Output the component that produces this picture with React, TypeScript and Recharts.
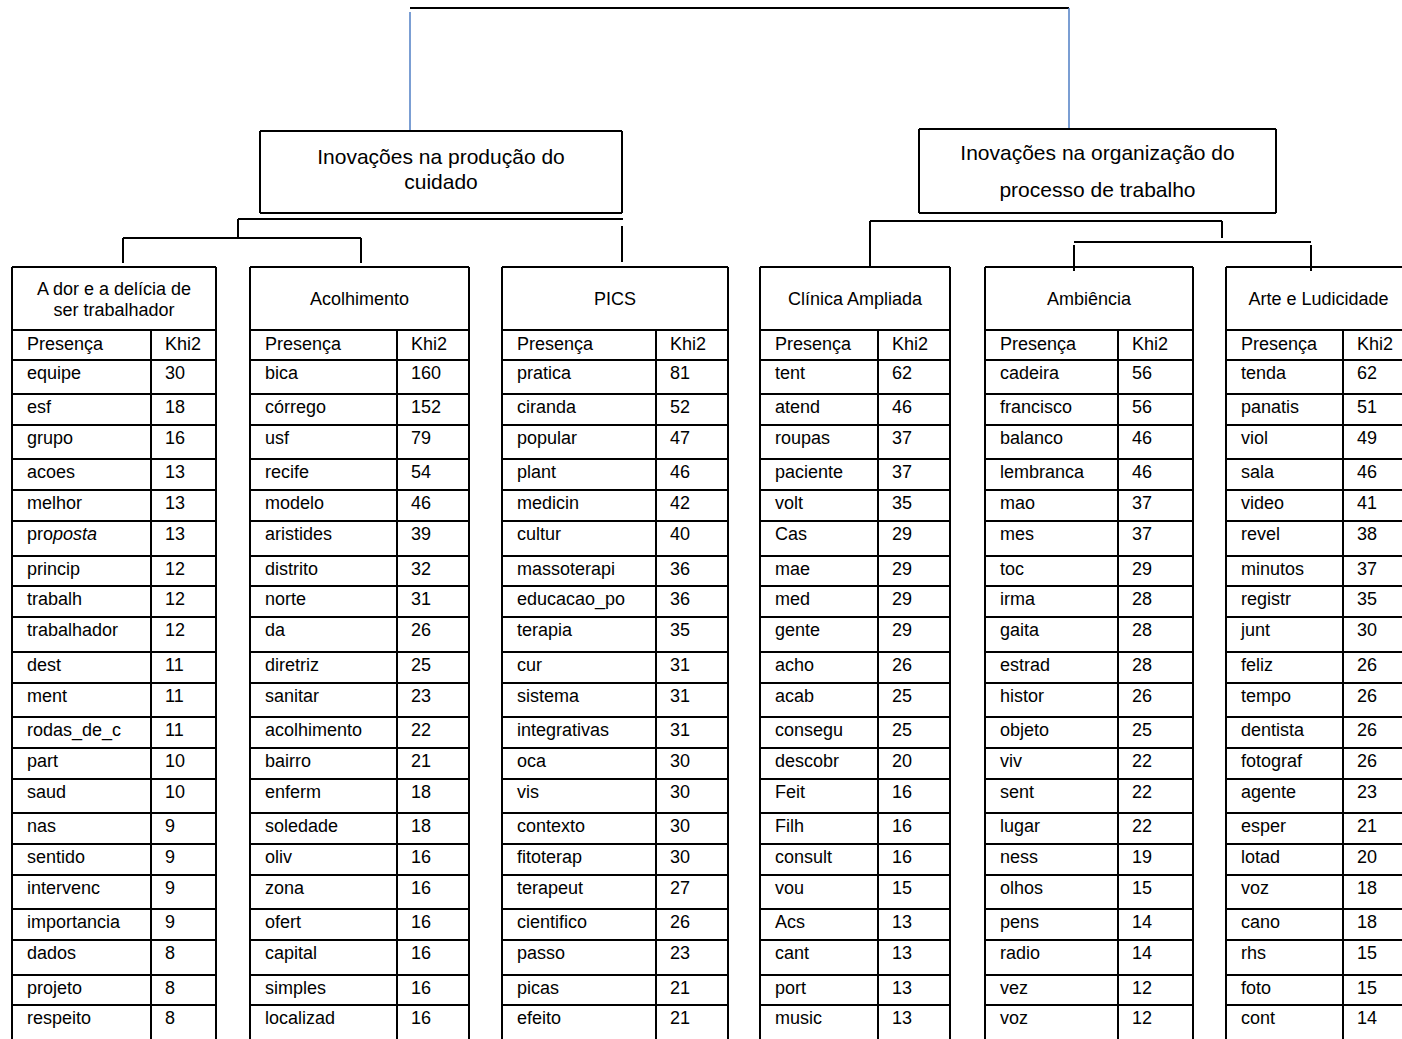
import {
  ScatterChart,
  Scatter,
  XAxis,
  YAxis,
  ReferenceLine,
} from "recharts";

// words and Khi2 values, one pair of arrays per class
const dorWords = ["equipe", "esf", "grupo", "acoes", "melhor", "proposta", "princip", "trabalh", "trabalhador", "dest", "ment", "rodas_de_c", "part", "saud", "nas", "sentido", "intervenc", "importancia", "dados", "projeto", "respeito"];
const dorKhi = [30, 18, 16, 13, 13, 13, 12, 12, 12, 11, 11, 11, 10, 10, 9, 9, 9, 9, 8, 8, 8];

const acolhWords = ["bica", "córrego", "usf", "recife", "modelo", "aristides", "distrito", "norte", "da", "diretriz", "sanitar", "acolhimento", "bairro", "enferm", "soledade", "oliv", "zona", "ofert", "capital", "simples", "localizad"];
const acolhKhi = [160, 152, 79, 54, 46, 39, 32, 31, 26, 25, 23, 22, 21, 18, 18, 16, 16, 16, 16, 16, 16];

const picsWords = ["pratica", "ciranda", "popular", "plant", "medicin", "cultur", "massoterapi", "educacao_po", "terapia", "cur", "sistema", "integrativas", "oca", "vis", "contexto", "fitoterap", "terapeut", "cientifico", "passo", "picas", "efeito"];
const picsKhi = [81, 52, 47, 46, 42, 40, 36, 36, 35, 31, 31, 31, 30, 30, 30, 30, 27, 26, 23, 21, 21];

const clinicaWords = ["tent", "atend", "roupas", "paciente", "volt", "Cas", "mae", "med", "gente", "acho", "acab", "consegu", "descobr", "Feit", "Filh", "consult", "vou", "Acs", "cant", "port", "music"];
const clinicaKhi = [62, 46, 37, 37, 35, 29, 29, 29, 29, 26, 25, 25, 20, 16, 16, 16, 15, 13, 13, 13, 13];

const ambWords = ["cadeira", "francisco", "balanco", "lembranca", "mao", "mes", "toc", "irma", "gaita", "estrad", "histor", "objeto", "viv", "sent", "lugar", "ness", "olhos", "pens", "radio", "vez", "voz"];
const ambKhi = [56, 56, 46, 46, 37, 37, 29, 28, 28, 28, 26, 25, 22, 22, 22, 19, 15, 14, 14, 12, 12];

const arteWords = ["tenda", "panatis", "viol", "sala", "video", "revel", "minutos", "registr", "junt", "feliz", "tempo", "dentista", "fotograf", "agente", "esper", "lotad", "voz", "cano", "rhs", "foto", "cont"];
const arteKhi = [62, 51, 49, 46, 41, 38, 37, 35, 30, 26, 26, 26, 26, 23, 21, 20, 18, 18, 15, 15, 14];

const classTitles = [
  ["A dor e a delícia de", "ser trabalhador"],
  ["Acolhimento"],
  ["PICS"],
  ["Clínica Ampliada"],
  ["Ambiência"],
  ["Arte e Ludicidade"],
];
const groupTitles = [
  ["Inovações na produção do", "cuidado"],
  ["Inovações na organização do", "processo de trabalho"],
];
const colHeaders = ["Presença", "Khi2"];

// layout (pixels of the 1402x1039 page)
const W = 1402;
const H = 1039;
const tableLeft = [12, 250, 502, 760, 985, 1226];
const tableDivider = [151, 397, 656, 878, 1118, 1343];
const tableRight = [216, 469, 728, 950, 1193, 1411];
const rowHeights = [34, 31, 34, 31, 31, 35, 30, 31, 35, 31, 34, 31, 31, 34, 31, 31, 34, 31, 35, 30, 40];
const TOP = 267;
const HEAD_BOTTOM = 330;
const COLHEAD_BOTTOM = 360;

const FONT = "'Liberation Sans', Arial, sans-serif";
const BLUE = "#4F7EC4";

const tables = [
  { words: dorWords, khi: dorKhi },
  { words: acolhWords, khi: acolhKhi },
  { words: picsWords, khi: picsKhi },
  { words: clinicaWords, khi: clinicaKhi },
  { words: ambWords, khi: ambKhi },
  { words: arteWords, khi: arteKhi },
];

const rowTops: number[] = [];
{
  let y = COLHEAD_BOTTOM;
  for (const h of rowHeights) {
    rowTops.push(y);
    y += h;
  }
}

type Pt = { x: number; y: number; text: string; anchor: string; size: number };
const points: Pt[] = [];

tables.forEach((t, ti) => {
  const l = tableLeft[ti];
  const d = tableDivider[ti];
  const cx = (l + tableRight[ti]) / 2;
  const title = classTitles[ti];
  if (title.length === 2) {
    points.push({ x: cx, y: 289, text: title[0], anchor: "middle", size: 18 });
    points.push({ x: cx, y: 310, text: title[1], anchor: "middle", size: 18 });
  } else {
    points.push({ x: cx, y: 299, text: title[0], anchor: "middle", size: 18 });
  }
  points.push({ x: l + 15, y: 344, text: colHeaders[0], anchor: "start", size: 18 });
  points.push({ x: d + 14, y: 344, text: colHeaders[1], anchor: "start", size: 18 });
  t.words.forEach((w, i) => {
    points.push({ x: l + 15, y: rowTops[i] + 13, text: w, anchor: "start", size: 18 });
    points.push({ x: d + 14, y: rowTops[i] + 13, text: String(t.khi[i]), anchor: "start", size: 18 });
  });
});

const boxes = [
  { x1: 260, x2: 622, y1: 131, y2: 213, lines: [156, 181] },
  { x1: 919, x2: 1276, y1: 129, y2: 213, lines: [152, 189] },
];
boxes.forEach((b, bi) => {
  groupTitles[bi].forEach((s, i) => {
    points.push({ x: (b.x1 + b.x2) / 2, y: b.lines[i], text: s, anchor: "middle", size: 21 });
  });
});

type Seg = { a: [number, number]; b: [number, number]; color?: string; w?: number };
const segs: Seg[] = [];
const seg = (x1: number, y1: number, x2: number, y2: number, color?: string, w?: number) =>
  segs.push({ a: [x1, y1], b: [x2, y2], color, w });

// dendrogram connectors
seg(410, 8, 1069, 8);
seg(410, 12, 410, 131, BLUE, 1.5);
seg(1069, 8, 1069, 129, BLUE, 1.5);
boxes.forEach((b) => {
  seg(b.x1, b.y1, b.x2, b.y1);
  seg(b.x1, b.y2, b.x2, b.y2);
  seg(b.x1, b.y1, b.x1, b.y2);
  seg(b.x2, b.y1, b.x2, b.y2);
});
seg(238, 219, 623, 219);
seg(238, 219, 238, 238);
seg(123, 238, 361, 238);
seg(123, 238, 123, 263);
seg(361, 238, 361, 263);
seg(622, 226, 622, 262);
seg(870, 221, 1222, 221);
seg(870, 221, 870, 267);
seg(1222, 221, 1222, 238);
seg(1074, 242, 1311, 242);
seg(1074, 245, 1074, 271);
seg(1311, 245, 1311, 271);

// table grids
tables.forEach((_, ti) => {
  const l = tableLeft[ti];
  const d = tableDivider[ti];
  const r = Math.min(tableRight[ti], W);
  seg(l, TOP, r, TOP);
  seg(l, HEAD_BOTTOM, r, HEAD_BOTTOM);
  seg(l, COLHEAD_BOTTOM, r, COLHEAD_BOTTOM);
  rowTops.slice(1).forEach((y) => seg(l, y, r, y));
  seg(l, TOP, l, H);
  seg(d, HEAD_BOTTOM, d, H);
  if (tableRight[ti] <= W) seg(r, TOP, r, H);
});

const TextShape = (props: any) => {
  const { cx, cy, payload } = props;
  if (cx == null || cy == null) return null;
  const common = {
    x: cx,
    y: cy,
    textAnchor: payload.anchor,
    dominantBaseline: "central" as const,
    fontFamily: FONT,
    fontSize: payload.size,
    fill: "#000",
  };
  if (payload.text === "proposta") {
    return (
      <text {...common}>
        pro<tspan fontStyle="italic">posta</tspan>
      </text>
    );
  }
  return <text {...common}>{payload.text}</text>;
};

export default function App() {
  return (
    <div style={{ position: "absolute", left: 0, top: 0, background: "#fff" }}>
      <ScatterChart
        width={W}
        height={H}
        margin={{ top: 0, right: 0, bottom: 0, left: 0 }}
      >
        <XAxis type="number" dataKey="x" domain={[0, W]} hide allowDataOverflow />
        <YAxis type="number" dataKey="y" domain={[0, H]} reversed hide allowDataOverflow />
        {segs.map((s, i) => (
          <ReferenceLine
            key={i}
            segment={[
              { x: s.a[0], y: s.a[1] },
              { x: s.b[0], y: s.b[1] },
            ]}
            stroke={s.color ?? "#000"}
            strokeWidth={s.w ?? 2}
            ifOverflow="visible"
          />
        ))}
        <Scatter
          data={points}
          shape={TextShape}
          isAnimationActive={false}
        />
      </ScatterChart>
    </div>
  );
}
